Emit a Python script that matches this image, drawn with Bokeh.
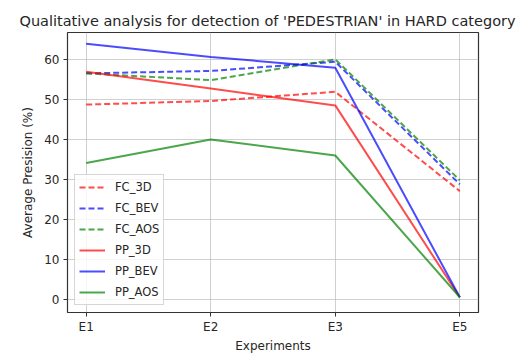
from bokeh.plotting import figure
from bokeh.models import Range1d, FixedTicker, Legend, LegendItem
from bokeh.embed import file_html
from bokeh.resources import INLINE

experiments = ["E1", "E2", "E3", "E5"]
fc_3d = [48.7, 49.6, 51.9, 27.1]
fc_bev = [56.5, 57.1, 59.4, 28.8]
fc_aos = [56.5, 54.8, 60.0, 29.8]
pp_3d = [56.9, 52.7, 48.5, 0.6]
pp_bev = [63.9, 60.6, 57.9, 0.6]
pp_aos = [34.1, 40.0, 36.0, 0.6]

xs = list(range(len(experiments)))
FONT = "DejaVu Sans"

p = figure(width=522, height=356, output_backend="svg", toolbar_location=None,
           x_range=Range1d(-0.15, 3.15), y_range=Range1d(-3.2, 66.7),
           min_border_left=67, min_border_right=44, min_border_top=32, min_border_bottom=44)

p.title.text = "Qualitative analysis for detection of 'PEDESTRIAN' in HARD category"
p.title.align = "left"
p.title.offset = -48
p.title.text_font = FONT
p.title.text_font_size = "14.5px"
p.title.text_font_style = "normal"
p.title.text_color = "#262626"
p.title.standoff = 8

p.outline_line_color = "#333333"
p.outline_line_width = 1.2

for ax in (p.xaxis[0], p.yaxis[0]):
    ax.axis_line_color = None
    ax.major_tick_line_color = "#333333"
    ax.major_tick_out = 4
    ax.major_tick_in = 0
    ax.minor_tick_line_color = None
    ax.major_label_text_font = FONT
    ax.major_label_text_font_size = "12px"
    ax.major_label_text_color = "#262626"
    ax.axis_label_text_font = FONT
    ax.axis_label_text_font_size = "12px"
    ax.axis_label_text_font_style = "normal"
    ax.axis_label_text_color = "#262626"

p.xaxis.ticker = FixedTicker(ticks=xs)
p.xaxis.major_label_overrides = {i: e for i, e in enumerate(experiments)}
p.yaxis.ticker = FixedTicker(ticks=[0, 10, 20, 30, 40, 50, 60])
p.xaxis.axis_label = "Experiments"
p.yaxis.axis_label = "Average Presision (%)"
p.yaxis.axis_label_standoff = 6
p.yaxis.major_label_standoff = 4
p.xaxis.axis_label_standoff = 2
p.xaxis.major_label_standoff = 3

p.grid.grid_line_color = "#b0b0b0"
p.grid.grid_line_alpha = 0.6
p.grid.grid_line_width = 1

series = [
    ("FC_3D", fc_3d, "red", "dashed"),
    ("FC_BEV", fc_bev, "blue", "dashed"),
    ("FC_AOS", fc_aos, "green", "dashed"),
    ("PP_3D", pp_3d, "red", "solid"),
    ("PP_BEV", pp_bev, "blue", "solid"),
    ("PP_AOS", pp_aos, "green", "solid"),
]

items = []
for name, vals, col, dash in series:
    r = p.line(xs, vals, line_color=col, line_alpha=0.7, line_width=2,
               line_dash="6 3" if dash == "dashed" else "solid")
    items.append(LegendItem(label=name, renderers=[r]))

legend = Legend(items=items, location="bottom_left")
legend.label_text_font = FONT
legend.label_text_font_size = "11.5px"
legend.label_text_color = "#262626"
legend.border_line_color = "#cccccc"
legend.border_line_alpha = 0.8
legend.background_fill_alpha = 0.8
legend.glyph_width = 26
legend.glyph_height = 16
legend.label_height = 16
legend.spacing = 5
legend.padding = 4
legend.margin = 7
legend.label_standoff = 10
p.add_layout(legend, "center")

open("out.html", "w").write(file_html(p, INLINE))
